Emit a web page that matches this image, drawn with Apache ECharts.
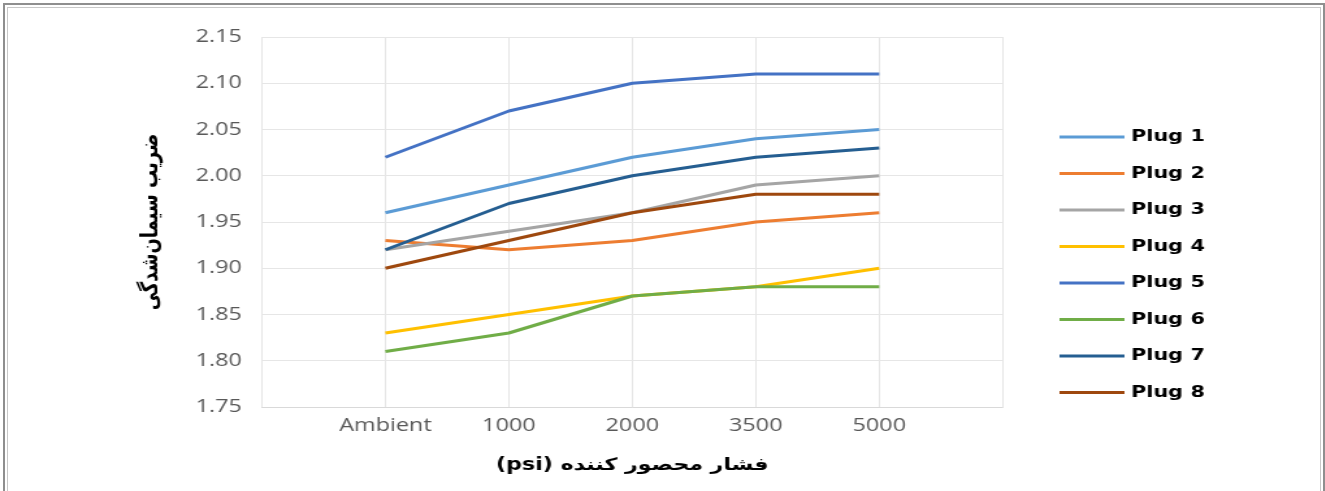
<!DOCTYPE html>
<html>
<head>
<meta charset="utf-8">
<script src="https://cdn.jsdelivr.net/npm/echarts@6/dist/echarts.min.js"></script>
<style>
  html, body { margin: 0; padding: 0; background: #fff; overflow: hidden; }
  #frame { position: absolute; left: 0; top: 0; width: 1325px; height: 491px; overflow: hidden; background: #fff; }
  /* chart is laid out narrower and widened horizontally to fill the panel */
  #chart { position: absolute; left: 0; top: 0; width: 1019.2px; height: 491px; transform: scaleX(1.3); transform-origin: 0 0; }
  #outer { position: absolute; left: 3px; top: 3px; width: 1318px; height: 520px; border: 2px solid #8f8f8f; border-bottom: none; }
  #inner { position: absolute; left: 7px; top: 7px; width: 1312px; height: 520px; border: 1px solid #c8c8c8; border-bottom: none; }
</style>
</head>
<body>
<div id="frame">
  <div id="chart"></div>
  <div id="outer"></div>
  <div id="inner"></div>
</div>
<script>
// Confining pressure steps (empty slots pad both ends of the axis)
const categories = ['', 'Ambient', '1000', '2000', '3500', '5000', ''];

// Cementation factor per plug at each pressure step
const plug1 = ['-', 1.96, 1.99, 2.02, 2.04, 2.05, '-'];
const plug2 = ['-', 1.93, 1.92, 1.93, 1.95, 1.96, '-'];
const plug3 = ['-', 1.92, 1.94, 1.96, 1.99, 2.00, '-'];
const plug4 = ['-', 1.83, 1.85, 1.87, 1.88, 1.90, '-'];
const plug5 = ['-', 2.02, 2.07, 2.10, 2.11, 2.11, '-'];
const plug6 = ['-', 1.81, 1.83, 1.87, 1.88, 1.88, '-'];
const plug7 = ['-', 1.92, 1.97, 2.00, 2.02, 2.03, '-'];
const plug8 = ['-', 1.90, 1.93, 1.96, 1.98, 1.98, '-'];

const seriesNames = ['Plug 1', 'Plug 2', 'Plug 3', 'Plug 4', 'Plug 5', 'Plug 6', 'Plug 7', 'Plug 8'];
const seriesData = [plug1, plug2, plug3, plug4, plug5, plug6, plug7, plug8];
const colors = ['#5B9BD5', '#ED7D31', '#A5A5A5', '#FFC000', '#4472C4', '#70AD47', '#255E91', '#9E480E'];

const yMin = 1.75, yMax = 2.15, yStep = 0.05;

const chart = echarts.init(document.getElementById('chart'), null, { renderer: 'canvas' });

chart.setOption({
  animation: false,
  backgroundColor: '#ffffff',
  color: colors,
  grid: { left: 201.5, right: 247.7, top: 37, bottom: 84, containLabel: false },
  legend: {
    orient: 'vertical',
    left: 810,
    top: 124,
    icon: 'rect',
    itemWidth: 50,
    itemHeight: 3,
    itemGap: 20.5,
    textStyle: { fontFamily: 'DejaVu Sans', fontWeight: 'bold', fontSize: 16, lineHeight: 16, color: '#000' },
    data: seriesNames
  },
  xAxis: {
    type: 'category',
    data: categories,
    boundaryGap: false,
    name: '(psi) فشار محصور کننده',
    nameLocation: 'middle',
    nameGap: 50,
    nameTextStyle: { fontFamily: 'DejaVu Sans', fontWeight: 'bold', fontSize: 17, color: '#000' },
    axisLine: { show: true, lineStyle: { color: '#d9d9d9', width: 1 } },
    axisTick: { show: false },
    axisLabel: { color: '#595959', fontFamily: 'Open Sans', fontSize: 18, margin: 10, interval: 0 },
    splitLine: { show: true, lineStyle: { color: '#e6e6e6', width: 1 } }
  },
  yAxis: {
    type: 'value',
    min: yMin,
    max: yMax,
    interval: yStep,
    name: 'ضریب سیمان‌شدگی',
    nameLocation: 'middle',
    nameRotate: 90,
    nameGap: 76,
    nameTextStyle: { fontFamily: 'DejaVu Sans', fontWeight: 'bold', fontSize: 18, color: '#000' },
    axisLine: { show: false },
    axisTick: { show: false },
    axisLabel: {
      color: '#595959', fontFamily: 'Open Sans', fontSize: 18, margin: 15.4,
      formatter: v => v.toFixed(2)
    },
    splitLine: { show: true, lineStyle: { color: '#e6e6e6', width: 1 } }
  },
  series: seriesNames.map((name, i) => ({
    name: name,
    type: 'line',
    data: seriesData[i],
    symbol: 'none',
    smooth: false,
    lineStyle: { width: 3, color: colors[i] },
    itemStyle: { color: colors[i] }
  }))
});
</script>
</body>
</html>
